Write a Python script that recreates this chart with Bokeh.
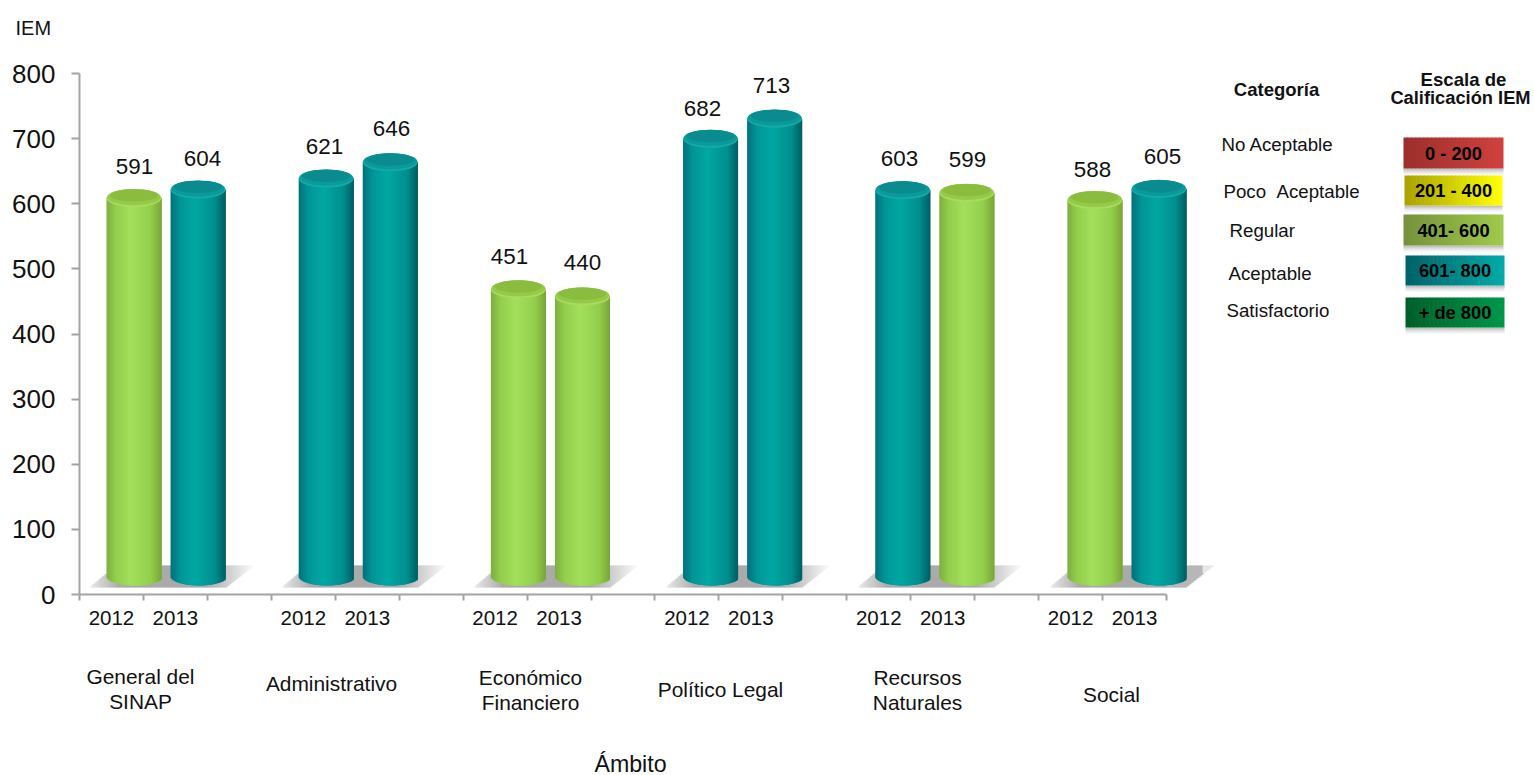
from bokeh.embed import file_html
from bokeh.resources import INLINE
from bokeh.plotting import figure
from bokeh.models import ColumnDataSource, Label, FixedTicker, Range1d
import numpy as np

# ---- data ----
groups = ["General del\nSINAP", "Administrativo", "Económico\nFinanciero", "Político Legal", "Recursos\nNaturales", "Social"]
years = ["2012", "2013"]
values_2012 = [591, 621, 451, 682, 603, 588]
values_2013 = [604, 646, 440, 713, 599, 605]
y_ticks = [0, 100, 200, 300, 400, 500, 600, 700, 800]
scale_ranges = ["0 - 200", "201 - 400", "401- 600", "601- 800", "+ de 800"]
scale_names = ["No Aceptable", "Poco \u00a0Aceptable", "Regular", "Aceptable", "Satisfactorio"]
scale_left = ["#9c2f2c", "#aaa300", "#76933c", "#00626a", "#00602b"]
scale_right = ["#d0413c", "#ffff00", "#9fc94a", "#00aaa6", "#00964a"]

# ---- layout (picture pixels) ----
FIG_W, FIG_H = 1534, 775
L, B = 79.0, 594.0          # position of the axes' origin
SLOT = 63.94                # pixels per x slot
UNIT = 0.65125              # pixels per IEM point

def X(px):
    return (np.asarray(px, dtype=float) - L) / SLOT

def Y(py):
    return (B - np.asarray(py, dtype=float)) / UNIT

def hex2rgb(h):
    return np.array([int(h[i:i + 2], 16) for i in (1, 3, 5)], dtype=float)

def mix(stops, t):
    ts = [s[0] for s in stops]
    rgb = [np.interp(t, ts, [hex2rgb(s[1])[c] for s in stops]) for c in range(3)]
    return "#%02x%02x%02x" % tuple(int(round(v)) for v in rgb)

# the frame fills the whole canvas; the axes sit at fixed data positions
p = figure(width=FIG_W, height=FIG_H, output_backend="svg", toolbar_location=None,
           x_range=Range1d(float(X(0)), float(X(FIG_W))), y_range=Range1d(float(Y(FIG_H)), float(Y(0))),
           min_border_left=0, min_border_right=0, min_border_top=0, min_border_bottom=0,
           outline_line_color=None, background_fill_color="white", border_fill_color="white")
p.grid.visible = False

AXIS_GREY = "#a3a3a3"
FONT = "Liberation Sans"

# y axis
ya = p.yaxis[0]
ya.fixed_location = 0
ya.ticker = FixedTicker(ticks=y_ticks)
ya.bounds = (0, 800)
ya.axis_line_color = AXIS_GREY
ya.axis_line_width = 2
ya.major_tick_line_color = AXIS_GREY
ya.major_tick_line_width = 2
ya.major_tick_out = 8
ya.major_tick_in = 0
ya.minor_tick_line_color = None
ya.major_label_text_font = FONT
ya.major_label_text_font_size = "26px"
ya.major_label_text_color = "#111111"
ya.major_label_standoff = 16

# x axis: ticks between the slots, labels in the slot centres
n_slots = 3 * len(groups) - 1
centres = []
overrides = {}
for g in range(len(groups)):
    for k, yr in enumerate(years):
        c = 3 * g + k + 0.5
        centres.append(c)
        overrides[c] = yr
xa = p.xaxis[0]
xa.fixed_location = 0
xa.ticker = FixedTicker(ticks=centres, minor_ticks=list(range(n_slots + 1)))
xa.major_label_overrides = overrides
xa.bounds = (0, n_slots)
xa.axis_line_color = AXIS_GREY
xa.axis_line_width = 2
xa.major_tick_line_color = None
xa.minor_tick_line_color = AXIS_GREY
xa.minor_tick_line_width = 2
xa.minor_tick_out = 6
xa.minor_tick_in = 0
xa.major_tick_out = 0
xa.major_tick_in = 0
xa.major_label_text_font = FONT
xa.major_label_text_font_size = "20.5px"
xa.major_label_text_color = "#111111"
xa.major_label_standoff = 10

# ---- floor shadows ----
sh = dict(l=[], r=[], b=[], t=[], c=[])
for g in range(len(groups)):
    dx = g * 3 * 64.0
    last = g == len(groups) - 1
    for px in np.arange(88, 254, 2.0):
        low = 587.0 - max(0.0, px - 224) * 22 / 28
        up = max(565.0, 587.0 - (px - 88) * 22 / 26)
        if low - up <= 0:
            continue
        a = min(1.0, 0.25 + (px - 88) / 40)
        if px > 205:
            a *= (0.85 if last else max(0.05, 1 - (px - 205) / 50))
        if px > 240 and last:
            a *= 0.35
        sh["l"].append(X(px + dx)); sh["r"].append(X(px + dx + 3.0))
        sh["b"].append(Y(low)); sh["t"].append(Y(up))
        sh["c"].append(mix([(0, "#ffffff"), (1, "#aaaaaa")], float(a)))
p.quad(left="l", right="r", bottom="b", top="t", source=ColumnDataSource(sh),
       fill_color="c", line_color=None)

# ---- cylinders ----
GREEN = [(-1, "#7fae3f"), (-0.65, "#93cf4c"), (-0.1, "#a3df5b"), (0.6, "#93cf4c"), (1, "#7aa538")]
TEAL = [(-1, "#00727a"), (-0.65, "#009597"), (-0.1, "#00a8a2"), (0.6, "#008f90"), (1, "#005d63")]
CAP = {id(GREEN): ("#a9da62", "#95c948", "#8abd3e"), id(TEAL): ("#14aaa6", "#0a9a9b", "#0a8b90")}

BAR_W = 55.0 / SLOT
BASE = (B - 576.0) / UNIT      # centre of the base ellipse
LIFT = 11.5 / UNIT             # 3-D lift of the top
SEMI = 9.0 / UNIT              # semi-height of the ellipses
bars = []
for g in range(len(groups)):
    bars.append((3 * g, values_2012[g]))
    bars.append((3 * g + 1, values_2013[g]))

st = dict(l=[], r=[], b=[], t=[], c=[])
cap = dict(x=[], y=[], w=[], h=[], c=[])
for slot, v in bars:
    cx = (133.5 - L) / SLOT + slot * 64.06 / SLOT
    stops = GREEN if v <= 600 else TEAL
    top = v + LIFT
    for t in np.linspace(-1, 1, 56)[:-1]:
        tm = t + 1 / 55
        st["l"].append(cx + t * BAR_W / 2)
        st["r"].append(cx + min(1.0, t + 2 * 3 / 55) * BAR_W / 2)
        st["b"].append(BASE - SEMI * np.sqrt(max(0.0, 1 - tm * tm)))
        st["t"].append(top)
        st["c"].append(mix(stops, tm))
    for (c, wf, hf, dy) in zip(CAP[id(stops)], (1.0, 0.97, 0.86), (1.0, 0.9, 0.68), (0, 0.12, 0.3)):
        cap["x"].append(cx)
        cap["y"].append(top + dy * SEMI)
        cap["w"].append(BAR_W * wf)
        cap["h"].append(2 * SEMI * hf)
        cap["c"].append(c)
p.quad(left="l", right="r", bottom="b", top="t", fill_color="c", line_color=None,
       source=ColumnDataSource(st))
p.ellipse(x="x", y="y", width="w", height="h", fill_color="c", line_color=None,
          source=ColumnDataSource(cap))

# ---- texts ----
def txt(px, py, s, size, bold=False, align="center", color="#111111"):
    p.add_layout(Label(x=float(px), y=float(py), x_units="canvas", y_units="canvas",
                       text=s, text_font=FONT, level="overlay",
                       text_font_size=f"{size}px", text_font_style="bold" if bold else "normal",
                       text_align=align, text_baseline="middle", text_color=color))

# value labels: centred above their bars
label_cx = [134, 202, 324, 391, 509, 582, 702, 771, 899, 967, 1092, 1162]
label_lift = [43, 43, 44, 45, 44, 45, 42, 45, 43, 45, 42, 44]
for (slot, v), cx_, lift in zip(bars, label_cx, label_lift):
    txt(cx_, B - v * UNIT - lift, str(v), 22.4)

txt(15, 27, "IEM", 20, align="left")
txt(630, 763, "Ámbito", 23.2)

group_cx = [140, 331, 530, 720, 917, 1111]
group_cy = [688, 683, 689, 689, 689, 694]
for s, cx_, cy in zip(groups, group_cx, group_cy):
    parts = s.split("\n")
    for i, part in enumerate(parts):
        txt(cx_, cy + (i - (len(parts) - 1) / 2) * 25, part, 20.9)

# ---- right-hand scale table ----
txt(1276, 89, "Categoría", 18.5, bold=True)
txt(1463, 79, "Escala de", 18.6, bold=True)
txt(1460, 97, "Calificación IEM", 18.3, bold=True)

name_x = [1221, 1223, 1229, 1228, 1226]
name_y = [144, 191, 230, 273, 310]
for s, x_, y_ in zip(scale_names, name_x, name_y):
    txt(x_, y_, s, 18.7, align="left")

box_l = [1403, 1404, 1403, 1405, 1405]
box_r = [1503, 1502, 1503, 1504, 1504]
box_t = [137, 175, 214, 255, 297]
box_b = [168, 205, 245, 285, 327]
sb = dict(l=[], r=[], b=[], t=[], a=[])
for l_, r_, b_ in zip(box_l, box_r, box_b):
    for d, a in ((6, 0.10), (4, 0.16), (2, 0.25)):
        sb["l"].append(X(l_)); sb["r"].append(X(r_)); sb["b"].append(Y(b_ + d)); sb["t"].append(Y(b_)); sb["a"].append(a)
p.quad(left="l", right="r", bottom="b", top="t", fill_color="#777777", fill_alpha="a",
       line_color=None, source=ColumnDataSource(sb))
bq = dict(l=[], r=[], b=[], t=[], c=[])
for l_, r_, t_, b_, c0, c1 in zip(box_l, box_r, box_t, box_b, scale_left, scale_right):
    edges = np.linspace(l_, r_, 26)
    for i in range(25):
        bq["l"].append(X(edges[i])); bq["r"].append(X(min(edges[i + 1] + 0.6, r_)))
        bq["b"].append(Y(b_)); bq["t"].append(Y(t_))
        bq["c"].append(mix([(0, c0), (1, c1)], i / 24))
p.quad(left="l", right="r", bottom="b", top="t", fill_color="c", line_color=None,
       source=ColumnDataSource(bq))
for s, l_, r_, t_, b_ in zip(scale_ranges, box_l, box_r, box_t, box_b):
    txt((l_ + r_) / 2, (t_ + b_) / 2, s, 18.3, bold=True, color="#000000")

open("out.html", "w").write(file_html(p, INLINE))
